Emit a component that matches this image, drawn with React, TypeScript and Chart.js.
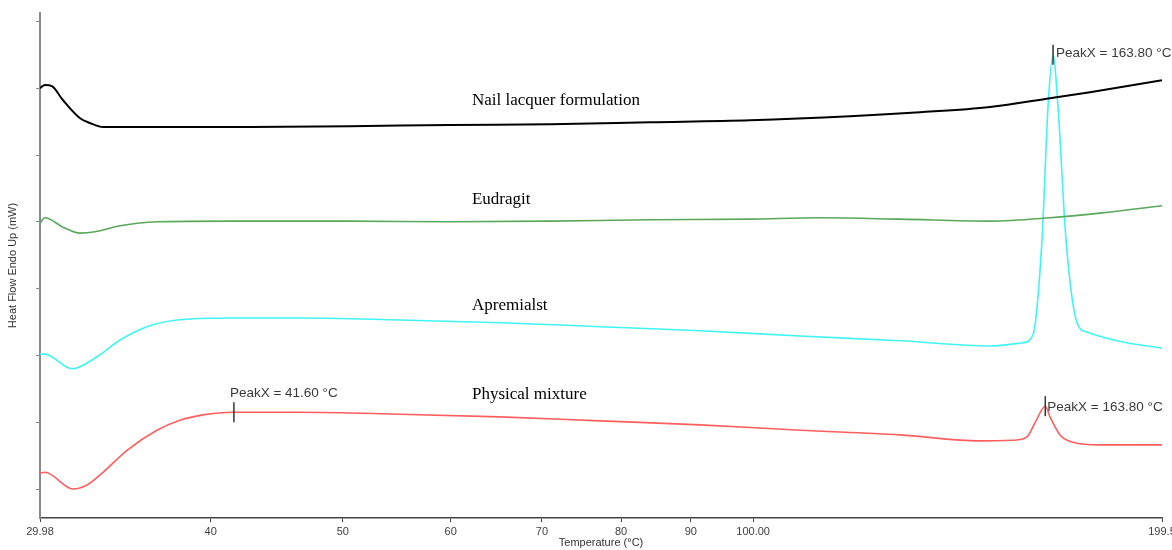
import React, { useEffect, useRef } from 'react';
import { Chart, registerables } from 'chart.js';

Chart.register(...registerables);

// ---- axis ticks ----
const xTickValues = [29.98, 40, 50, 60, 70, 80, 90, 100, 199.5];
const xTickLabels = ['29.98', '40', '50', '60', '70', '80', '90', '100.00', '199.5'];
const yTickValues = [0, 1, 2, 3, 4, 5, 6, 7];

// ---- series (temperature °C, heat flow mW, offset traces) ----
const seriesNames = ['Nail lacquer formulation', 'Eudragit', 'Apremialst', 'Physical mixture'];

const nailT = [29.98, 30.23, 30.59, 31.17, 32.08, 32.62, 33.35, 37.66, 42.75, 50.61, 59.92, 70.95, 84.01, 99.47, 117.78, 132.56, 149.2, 165.12, 176.66, 199.5];
const nailV = [6.0, 6.05, 6.03, 5.82, 5.55, 5.48, 5.42, 5.42, 5.42, 5.43, 5.45, 5.46, 5.49, 5.52, 5.58, 5.64, 5.72, 5.85, 5.94, 6.12];

const eudT = [29.98, 30.23, 31.17, 32.08, 32.9, 34.32, 36.53, 41.33, 50.61, 59.92, 70.95, 84.01, 99.47, 111.96, 128.16, 149.2, 165.12, 179.67, 199.5];
const eudV = [3.98, 4.06, 3.92, 3.83, 3.85, 3.94, 4.0, 4.01, 4.01, 4.0, 4.01, 4.03, 4.04, 4.06, 4.04, 4.01, 4.06, 4.13, 4.24];

const aprT = [29.98, 30.23, 31.64, 33.01, 34.32, 35.92, 37.79, 41.33, 46.51, 55.07, 65.21, 77.21, 91.41, 108.24, 128.16, 149.2, 157.75, 160.44, 162.9, 164.56, 165.96, 167.36, 169.64, 172.82, 175.76, 186.78, 199.5];
const aprV = [2.02, 2.02, 1.8, 1.98, 2.23, 2.43, 2.53, 2.56, 2.56, 2.53, 2.49, 2.43, 2.37, 2.29, 2.22, 2.14, 2.19, 2.31, 3.73, 5.72, 6.5, 5.72, 3.73, 2.49, 2.35, 2.2, 2.11];

const mixT = [29.98, 30.23, 31.7, 32.46, 33.35, 34.73, 36.53, 37.98, 39.48, 41.54, 43.47, 46.51, 55.07, 65.21, 77.21, 91.41, 108.24, 128.16, 146.7, 155.11, 158.82, 160.98, 163.8, 165.12, 167.93, 171.66, 179.67, 199.5];
const mixV = [0.24, 0.25, 0.0, 0.06, 0.25, 0.58, 0.88, 1.03, 1.11, 1.15, 1.15, 1.15, 1.12, 1.08, 1.02, 0.96, 0.88, 0.81, 0.72, 0.73, 0.78, 0.99, 1.24, 1.08, 0.81, 0.7, 0.66, 0.66];

// ---- in-plot series labels (data coordinates) ----
const nameLabelT = [62.19, 62.19, 62.19, 62.19];
const nameLabelV = [5.81, 4.33, 2.75, 1.41];

// ---- peak annotations ----
const peakT = [41.6, 165.96, 163.8];
const peakV = [1.15, 6.5, 1.24];
const peakText = ['PeakX = 41.60 °C', 'PeakX = 163.80 °C', 'PeakX = 163.80 °C'];
// text offsets in pixels relative to marker (layout only)
const peakTextLayout = [
  { dx: -4, dy: -19 },
  { dx: 3, dy: -2 },
  { dx: 2, dy: 1 },
];

const colors = ['#000000', '#5aa85a', '#40f4f4', '#ff5e5e'];
const widths = [2, 1.6, 1.6, 1.6];

const overlayPlugin = {
  id: 'overlay',
  afterDatasetsDraw(chart: any) {
    const { ctx } = chart;
    const xs = chart.scales.x;
    const ys = chart.scales.y;
    ctx.save();
    ctx.font = '17px "Liberation Serif", "Times New Roman", serif';
    ctx.fillStyle = '#000';
    ctx.textAlign = 'left';
    ctx.textBaseline = 'middle';
    seriesNames.forEach((n, i) => {
      ctx.fillText(n, xs.getPixelForValue(nameLabelT[i]), ys.getPixelForValue(nameLabelV[i]));
    });
    ctx.font = '13.5px "Liberation Sans", Arial, sans-serif';
    peakT.forEach((t, i) => {
      const px = xs.getPixelForValue(t);
      const py = ys.getPixelForValue(peakV[i]);
      ctx.strokeStyle = '#333';
      ctx.lineWidth = 1.5;
      ctx.beginPath();
      ctx.moveTo(px, py - 10);
      ctx.lineTo(px, py + 10);
      ctx.stroke();
      ctx.fillStyle = '#3a3a3a';
      ctx.fillText(peakText[i], px + peakTextLayout[i].dx, py + peakTextLayout[i].dy);
    });
    ctx.restore();
  },
};

export default function App() {
  const ref = useRef<HTMLCanvasElement>(null);
  useEffect(() => {
    const pts = (ts: number[], vs: number[]) => ts.map((t, i) => ({ x: t, y: vs[i] }));
    const series = [pts(nailT, nailV), pts(eudT, eudV), pts(aprT, aprV), pts(mixT, mixV)];
    const chart = new Chart(ref.current as HTMLCanvasElement, {
      type: 'line',
      data: {
        datasets: series.map((d, i) => ({
          label: seriesNames[i],
          data: d,
          borderColor: colors[i],
          borderWidth: widths[i],
          pointRadius: 0,
          fill: false,
          cubicInterpolationMode: 'monotone' as const,
        })),
      },
      options: {
        animation: false,
        responsive: false,
        devicePixelRatio: 1,
        layout: { padding: { top: 13, right: 10, left: 0, bottom: 0 } },
        plugins: { legend: { display: false }, tooltip: { enabled: false } },
        scales: {
          x: {
            type: 'logarithmic',
            min: 29.98,
            max: 199.5,
            afterBuildTicks: (s: any) => {
              s.ticks = xTickValues.map((v) => ({ value: v }));
            },
            afterFit: (s: any) => {
              s.height = 32;
              s.paddingLeft = 0;
              s.paddingRight = 0;
            },
            ticks: {
              autoSkip: false,
              maxRotation: 0,
              padding: 3,
              color: '#404040',
              font: { family: '"Liberation Sans", Arial, sans-serif', size: 11 },
              callback: (_v: any, i: number) => xTickLabels[i],
            },
            grid: { drawOnChartArea: false, drawTicks: true, tickLength: 4, color: '#444' },
            border: { display: true, color: '#444', width: 1.5 },
            title: {
              display: true,
              text: 'Temperature (°C)',
              color: '#333',
              font: { family: '"Liberation Sans", Arial, sans-serif', size: 11 },
              padding: { top: 0, bottom: 0 },
            },
          },
          y: {
            type: 'linear',
            min: -0.434,
            max: 7.126,
            afterBuildTicks: (s: any) => {
              s.ticks = yTickValues.map((v) => ({ value: v }));
            },
            afterFit: (s: any) => {
              s.width = 40;
            },
            ticks: { display: false },
            grid: { drawOnChartArea: false, drawTicks: true, tickLength: 4, color: '#888' },
            border: { display: true, color: '#8a8a8a', width: 2 },
            title: {
              display: true,
              text: 'Heat Flow Endo Up (mW)',
              color: '#333',
              font: { family: '"Liberation Sans", Arial, sans-serif', size: 11 },
              padding: { top: 6, bottom: 0 },
            },
          },
        },
      },
      plugins: [overlayPlugin],
    } as any);
    return () => chart.destroy();
  }, []);
  return (
    <div style={{ position: 'absolute', left: 0, top: 0, width: 1172, height: 550, overflow: 'hidden', background: '#fff' }}>
      <canvas ref={ref} width={1172} height={550} style={{ display: 'block' }} />
    </div>
  );
}
